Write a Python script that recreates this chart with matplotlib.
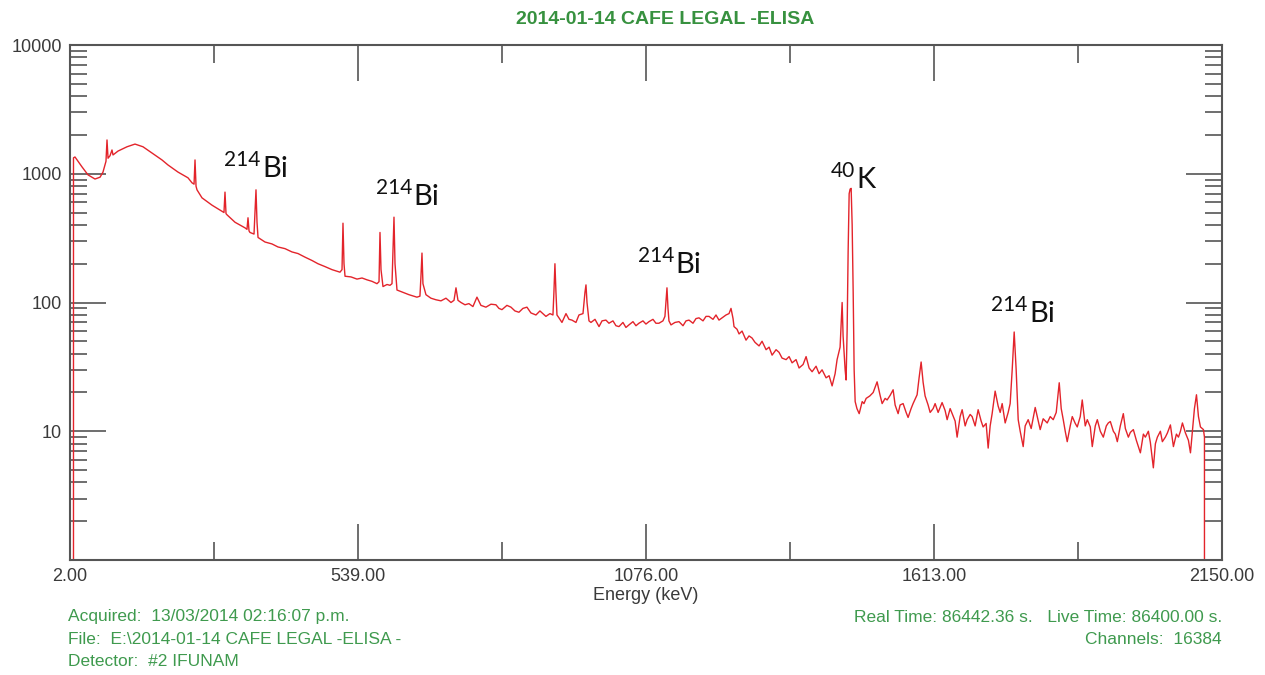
import matplotlib
matplotlib.use('Agg')
import matplotlib.pyplot as plt
from matplotlib.ticker import FixedLocator, NullFormatter, LogLocator


OUTPUT_FILE = 'out.png'

TITLE = '2014-01-14 CAFE LEGAL -ELISA'
XLABEL = 'Energy (keV)'

# spectrum: energy (keV) vs counts per channel
energy = [
    2.0, 6.7, 8.5, 11.3, 24.4, 35.6, 48.6, 58.0, 63.5, 69.1, 71.0, 72.9, 76.6, 80.3, 82.2,
    91.5, 108.3, 123.2, 138.1, 154.9, 173.5, 184.7, 203.4, 222.0, 229.5, 233.3, 235.1,
    237.0, 238.8, 248.1, 266.8, 285.4, 289.1, 291.0, 292.9, 294.7, 309.7, 328.3, 332.0,
    333.9, 335.8, 337.6, 345.1, 348.8, 350.7, 352.6, 365.6, 378.6, 389.8, 402.9, 415.9,
    427.1, 440.2, 453.2, 464.4, 477.5, 490.5,
    505.4, 509.2, 511.0, 512.9, 514.8, 526.0, 537.1, 546.5, 555.8, 565.1, 574.4, 578.2,
    580.0, 581.9, 585.6, 593.1, 598.7, 602.4, 604.3, 606.1, 608.0, 611.7, 622.8, 634.0,
    648.9, 654.5, 656.4, 658.3, 660.1, 665.7, 675.0, 684.4, 693.7, 703.0, 712.4, 718.0,
    721.7, 725.4, 731.0, 738.5, 745.8, 753.3, 760.8, 768.2, 777.5, 786.9, 796.2, 801.8,
    807.4, 816.7, 824.2, 831.6, 839.1, 846.5, 854.0, 861.4, 870.8, 878.2, 889.4, 896.9,
    902.5, 904.3, 906.2, 908.1, 910.0, 913.7, 919.3, 926.8, 932.4, 937.9, 945.4, 951.0,
    958.5, 962.2, 964.1, 966.0, 969.7, 973.4, 980.9, 988.4, 994.0, 1001.3,
    1006.9, 1014.4, 1020.0, 1025.6, 1033.0, 1038.6, 1044.2, 1051.7, 1057.3, 1062.8,
    1070.3, 1075.9, 1081.5, 1089.0, 1094.5, 1100.1, 1107.6, 1111.3, 1113.2, 1115.1,
    1117.0, 1118.8, 1122.6, 1130.0, 1137.5, 1145.0, 1150.6, 1156.2, 1163.6, 1169.2,
    1174.8, 1182.3, 1187.9, 1193.5, 1200.9, 1206.5, 1212.1, 1219.6, 1225.2, 1230.8,
    1234.5, 1238.3, 1240.1, 1245.7, 1249.5, 1255.1, 1262.5, 1268.1, 1273.7, 1279.3,
    1286.8, 1292.4, 1299.9, 1305.5, 1311.1, 1318.5, 1324.1, 1329.7, 1337.2, 1342.8,
    1348.4, 1355.8, 1361.4, 1368.9, 1374.5, 1380.1, 1385.7, 1393.1, 1398.7, 1404.3,
    1411.8, 1417.4, 1423.0, 1428.6, 1432.3, 1437.9, 1441.7, 1443.5, 1447.3, 1449.1,
    1451.0, 1452.9, 1454.8, 1456.6, 1458.5, 1460.4, 1462.3, 1464.1, 1466.0,
    1469.3, 1473.5, 1479.1, 1482.4, 1486.5, 1493.3, 1499.6, 1506.9, 1512.5, 1516.3,
    1521.9, 1525.6, 1531.2, 1536.8, 1540.5, 1546.1, 1549.8, 1555.4, 1561.0, 1564.7,
    1570.3, 1574.0, 1581.5, 1585.2, 1589.0, 1592.7, 1596.4, 1602.0, 1605.8, 1611.4,
    1615.1, 1620.7, 1628.1, 1633.7, 1637.5, 1643.1, 1646.8, 1652.4, 1656.1, 1661.7,
    1665.5, 1671.1, 1674.8, 1680.4, 1684.1, 1689.7, 1695.3, 1700.9, 1704.6, 1710.2,
    1714.0, 1717.7, 1721.4, 1727.0, 1732.6, 1736.4, 1740.1, 1745.7, 1751.3, 1755.0,
    1758.8, 1762.5, 1766.2, 1770.0, 1773.7, 1779.3, 1783.0, 1788.6, 1794.2, 1801.7,
    1807.3, 1811.0, 1816.6, 1824.1, 1829.7, 1835.3, 1840.9, 1844.6, 1846.5, 1850.2,
    1854.0, 1857.7, 1861.4, 1867.0, 1870.8, 1876.4, 1880.1, 1885.7, 1889.4, 1895.0,
    1898.8, 1904.4, 1908.1,
    1913.7, 1917.5, 1923.1, 1928.7, 1934.3, 1938.0, 1941.8, 1947.4, 1951.1, 1954.8,
    1960.4, 1966.0, 1969.8, 1975.4, 1979.1, 1984.7, 1990.3, 1997.8, 2003.4, 2007.1,
    2012.7, 2016.4, 2022.0, 2025.8, 2029.5, 2035.1, 2038.8, 2044.4, 2048.2, 2053.8,
    2059.4, 2065.0, 2068.8, 2072.5, 2076.2, 2081.8, 2087.4, 2091.2, 2094.9, 2098.6,
    2102.4, 2106.1, 2109.8, 2115.4, 2117.3, 2119.2, 2150.0,
]

counts = [
    0, 0, 1330, 1350, 1130, 980, 910, 940, 1030, 1250, 1830, 1320, 1380, 1530, 1400,
    1500, 1620, 1700, 1620, 1450, 1280, 1170, 1030, 930, 850, 830, 1280,
    800, 750, 650, 570, 510, 500, 720, 490, 480, 420, 380, 370,
    455, 360, 350, 340, 750, 420, 320, 295, 285, 270, 262, 247,
    240, 225, 212, 200, 190, 180,
    172, 180, 413, 200, 160, 158, 152, 155, 150, 146, 140, 145,
    350, 180, 133, 138, 136, 140, 250, 460, 200, 125, 120, 115,
    110, 112, 160, 242, 140, 115, 108, 105, 103, 108, 100, 104,
    130, 104, 100, 96, 98, 93, 110, 95, 92, 97, 96, 90,
    88, 95, 92, 86, 84, 90, 92, 83, 80, 86, 78, 82,
    80, 120, 200, 120, 80, 76, 70, 82, 74, 73, 70, 80,
    82, 120, 137, 100, 72, 70, 74, 65, 72, 73,
    69, 72, 66, 65, 70, 64, 67, 71, 66, 69,
    72, 68, 71, 74, 69, 69, 72, 78, 100, 130,
    90, 72, 67, 70, 71, 66, 72, 73, 69, 75,
    76, 72, 78, 78, 74, 80, 73, 77, 80, 82,
    90, 75, 65, 62, 57, 60, 51, 55, 53, 49,
    46, 50, 43, 45, 39, 43, 41, 37, 36, 38,
    34, 36, 31, 33, 38, 31, 29, 32, 28, 30,
    26, 27, 22.5, 28, 36, 45, 100, 55, 30, 25,
    60, 250, 700, 760, 770, 400, 120, 30, 17,
    15, 13.7, 17, 16.4, 18, 18.8, 20, 24.2, 19, 16.4,
    18, 17.5, 19, 21, 16, 13.7, 16, 16.4, 14, 12.8,
    15, 16.4, 19.2, 26, 34.5, 24, 18.8, 16, 14, 15,
    16.4, 14, 16.7, 14.5, 12.3, 15, 13.7, 12, 9.0, 13,
    14.7, 11, 12.3, 13.5, 13, 11, 14.7, 12, 10.8, 11.5,
    7.4, 11, 13.7, 20.5, 15.7, 14, 16.4, 11.6, 14, 16.4,
    30, 59, 30, 12.3, 10, 7.6, 11, 12.3, 10.5, 15.3,
    12, 10.3, 12.5, 11.6, 13, 12.3, 14, 20, 23.8, 15,
    12.3, 10, 8.3, 11, 13, 11.5, 10.8, 13, 17.5, 11,
    12.3, 10.8, 7.6,
    11, 12.3, 10, 9, 11, 11.6, 11.9, 10, 9.5, 8.3,
    11, 13.7, 10.5, 9, 9.8, 10.3, 8.5, 6.8, 9.5, 9,
    10, 8.2, 5.2, 8, 9, 10, 8.3, 9, 9.7, 11.2,
    7.6, 9.5, 9, 10, 11.6, 9.7, 8.5, 6.8, 10, 15,
    19.2, 13, 10.8, 10.3, 9, 0, 0,
]

x_ticks = [2.0, 539.0, 1076.0, 1613.0, 2150.0]
x_minor = [270.5, 807.5, 1344.5, 1881.5]
y_ticks = [10, 100, 1000, 10000]

# isotope labels: mass number, element, energy where the two meet, baseline counts
label_mass = ['214', '214', '214', '40', '214']
label_elem = ['Bi', 'Bi', 'Bi', 'K', 'Bi']
label_x = [360, 643, 1131, 1469, 1790]
label_y = [943, 572, 170, 775, 71]

footer_left = [
    'Acquired:  13/03/2014 02:16:07 p.m.',
    'File:  E:\\2014-01-14 CAFE LEGAL -ELISA -',
    'Detector:  #2 IFUNAM',
]
footer_right = [
    'Real Time: 86442.36 s.   Live Time: 86400.00 s.',
    'Channels:  16384',
]

GREEN = '#3f9a4e'
TEXT_GRAY = '#3a3a3a'
FRAME = '#555555'

plt.rcParams['font.family'] = ['Liberation Sans', 'DejaVu Sans']

fig = plt.figure(figsize=(12.65, 6.75), dpi=100)
ax = fig.add_axes([70 / 1265, 1 - 560 / 675, 1152 / 1265, 515 / 675])

ax.plot(energy, counts, color='#e3242b', linewidth=1.0)

ax.set_yscale('log', nonpositive='clip')
ax.set_xlim(2, 2150)
ax.set_ylim(1, 10000)

#x ticks on both bottom and top, pointing in
ax.set_xticks(x_ticks)
ax.set_xticklabels(['%.2f' % v for v in x_ticks])
ax.xaxis.set_minor_locator(FixedLocator(x_minor))
ax.set_yticks(y_ticks)
ax.set_yticklabels([str(v) for v in y_ticks])
ax.yaxis.set_minor_locator(LogLocator(base=10, subs=range(2, 10)))
ax.yaxis.set_minor_formatter(NullFormatter())

ax.tick_params(which='both', direction='in', top=True, right=True,
               colors=FRAME, labelcolor=TEXT_GRAY, labelsize=13, width=1.2)
ax.tick_params(which='major', length=26, pad=6)
ax.tick_params(axis='x', which='minor', length=13)
ax.tick_params(axis='y', which='minor', length=12)

for side in ax.spines.values():
    side.set_color(FRAME)
    side.set_linewidth(1.5)

ax.set_xlabel(XLABEL, fontsize=13, color=TEXT_GRAY, labelpad=1)

#isotope names above their peaks, mass number raised to the left of the symbol
for mass, elem, xv, yv in zip(label_mass, label_elem, label_x, label_y):
    ax.annotate(mass, (xv, yv), xytext=(-1, 8), textcoords='offset points',
                fontsize=15, family='Lato', color='#111111', ha='right', va='baseline')
    ax.annotate(elem, (xv, yv), xytext=(0, 0), textcoords='offset points',
                fontsize=21, family='Lato', color='#111111', ha='left', va='baseline')

fig.text(665 / 1265, 1 - 20 / 675, TITLE, color='#37913f', fontsize=14,
         fontweight='bold', ha='center', va='center')

for i, line in enumerate(footer_left):
    fig.text(68 / 1265, 1 - (617 + 22 * i) / 675, line, color=GREEN,
             fontsize=12.5, ha='left', va='center')
for i, line in enumerate(footer_right):
    fig.text(1222 / 1265, 1 - (617 + 22 * i) / 675, line, color=GREEN,
             fontsize=12.5, ha='right', va='center')

fig.savefig(OUTPUT_FILE, dpi=100)
plt.close(fig)
